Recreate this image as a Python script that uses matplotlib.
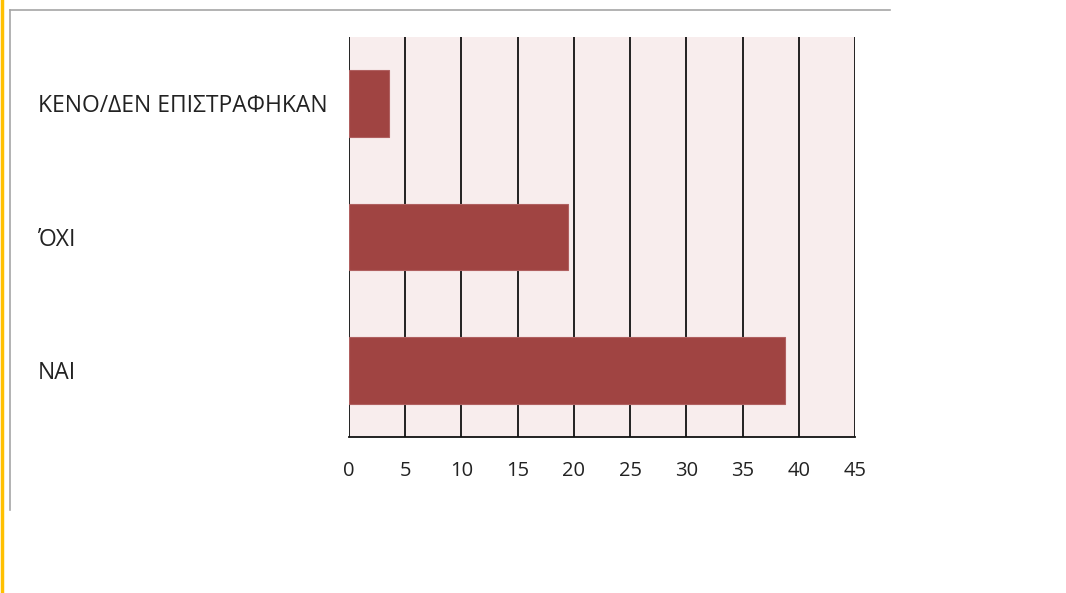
import matplotlib
matplotlib.use("Agg")
from matplotlib import pyplot as plt
from matplotlib import transforms
from matplotlib.lines import Line2D

categories = ['ΝΑΙ', 'ΌΧΙ', 'ΚΕΝΟ/ΔΕΝ ΕΠΙΣΤΡΑΦΗΚΑΝ']
values = [38.8, 19.5, 3.6]
xticks = [0, 5, 10, 15, 20, 25, 30, 35, 40, 45]

W, H = 1066, 593
fig = plt.figure(figsize=(W / 100, H / 100), dpi=100)
plt.rcParams['font.family'] = ['Open Sans', 'DejaVu Sans']

# axes box in pixels: left 349, right 855, top 37, bottom 437
ax = fig.add_axes([349 / W, 1 - 437 / H, (855 - 349) / W, (437 - 37) / H])
ax.set_facecolor('#F8EDED')

ax.barh(range(len(categories)), values, height=0.5,
        color='#A04442', edgecolor='#B06060', linewidth=0.8, zorder=3)

ax.set_xlim(0, 45)
ax.set_ylim(-0.5, len(categories) - 0.5)
ax.set_xticks(xticks)
ax.set_xticklabels([str(t) for t in xticks], fontsize=14.5, color='#222222')
ax.tick_params(axis='x', length=0, pad=17)
ax.set_yticks([])
ax.xaxis.grid(True, color='#111111', linewidth=1.3, zorder=1)
ax.set_axisbelow(True)

for s in ['top', 'right', 'left']:
    ax.spines[s].set_visible(False)
ax.spines['bottom'].set_color('#111111')
ax.spines['bottom'].set_linewidth(1.3)

trans = transforms.blended_transform_factory(fig.transFigure, ax.transData)
for i, c in enumerate(categories):
    ax.text(38 / W, i - 0.02, c, transform=trans, ha='left', va='center',
            fontsize=16.5, color='#222222')

# frame decorations
fig.add_artist(Line2D([1.5 / W, 1.5 / W], [0, 1], color='#FFC000', linewidth=2.5))
fig.add_artist(Line2D([10 / W, 890 / W], [1 - 10 / H, 1 - 10 / H], color='#A6A6A6', linewidth=1.2))
fig.add_artist(Line2D([10 / W, 10 / W], [1 - 10 / H, 1 - 510 / H], color='#A6A6A6', linewidth=1.2))

fig.savefig('out.png', dpi=100, facecolor='white')
